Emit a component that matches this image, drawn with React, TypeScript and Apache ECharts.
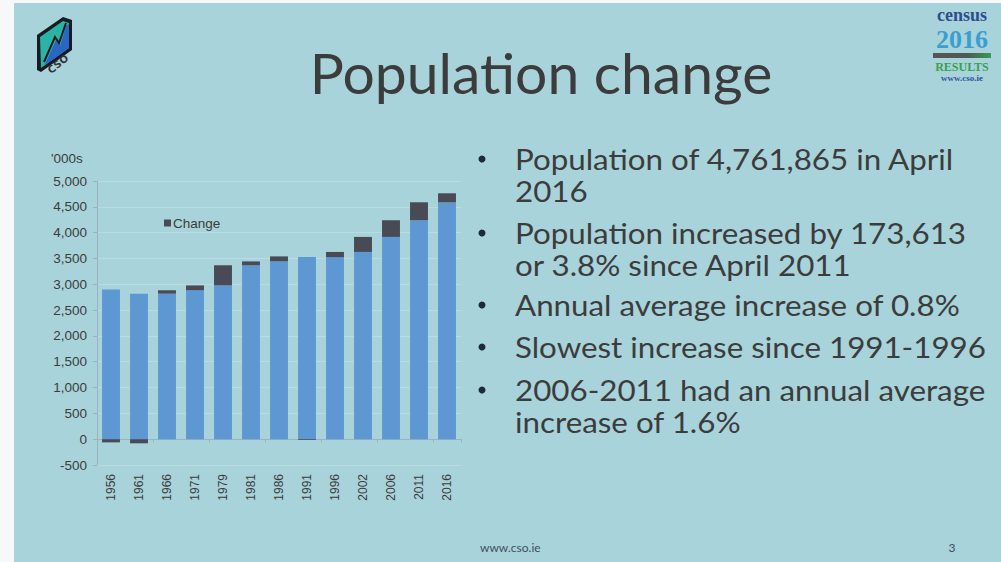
import React, { useEffect, useRef } from "react";
import * as echarts from "echarts";

const years = ["1956", "1961", "1966", "1971", "1979", "1981", "1986", "1991", "1996", "2002", "2006", "2011", "2016"];
// population base in '000s (previous census or current if decrease)
const basePopulation = [2898, 2818, 2818, 2884, 2978, 3368, 3443, 3526, 3526, 3626, 3917, 4240, 4588];
// change since previous census in '000s
const changeValues = [-62, -80, 66, 94, 390, 75, 97, -15, 100, 291, 323, 348, 174];

const titleText = "Population change";
const bulletLines: { text: string; bullet: boolean }[] = [
  { text: "Population of 4,761,865 in April", bullet: true },
  { text: "2016", bullet: false },
  { text: "Population increased by 173,613", bullet: true },
  { text: "or 3.8% since April 2011", bullet: false },
  { text: "Annual average increase of 0.8%", bullet: true },
  { text: "Slowest increase since 1991-1996", bullet: true },
  { text: "2006-2011 had an annual average", bullet: true },
  { text: "increase of 1.6%", bullet: false },
];
const bulletY = [158, 190, 232, 264, 304, 346, 389, 421];

const BG = "#A8D3DB";
const BLUE = "#5E98D3";
const DARK = "#4A4A56";
const TXT = "#3C3C3C";
const CHART_FONT = "Liberation Sans, Arial, sans-serif";
const SLIDE_FONT = "Lato, 'Open Sans', sans-serif";

export default function App() {
  const ref = useRef<HTMLDivElement>(null);
  useEffect(() => {
    if (!ref.current) return;
    const chart = echarts.init(ref.current, null, { renderer: "svg" });

    const bulletGraphics: any[] = [];
    bulletLines.forEach((l, i) => {
      if (l.bullet) {
        bulletGraphics.push({
          type: "circle",
          shape: { cx: 482, cy: bulletY[i] + 1, r: 3.5 },
          style: { fill: "#1e2a3a" },
        });
      }
      bulletGraphics.push({
        type: "text",
        x: 515,
        y: bulletY[i],
        scaleX: 1.08,
        style: {
          text: l.text,
          fill: TXT,
          font: `29px ${SLIDE_FONT}`,
          textVerticalAlign: "middle",
          textAlign: "left",
        },
      });
    });

    chart.setOption({
      animation: false,
      backgroundColor: BG,
      grid: { left: 97, right: 540, top: 181, bottom: 97, containLabel: false },
      legend: {
        data: ["Change"],
        left: 159,
        top: 211,
        icon: "rect",
        itemWidth: 7,
        itemHeight: 7,
        textStyle: { fontSize: 13.5, color: TXT, fontFamily: CHART_FONT, padding: [0, 0, 0, -3] },
      },
      xAxis: [
        {
          type: "category",
          data: years,
          axisLine: { onZero: true, lineStyle: { color: "#9BB3BA", width: 1 } },
          axisTick: { show: true, length: 3, lineStyle: { color: "#9BB3BA" } },
          axisLabel: { show: false },
          splitLine: { show: false },
        },
        {
          type: "category",
          data: years,
          position: "bottom",
          axisLine: { show: false, onZero: false },
          axisTick: { show: false },
          axisLabel: {
            rotate: 90,
            margin: 9,
            fontSize: 12,
            color: TXT,
            fontFamily: CHART_FONT,
          },
        },
      ],
      yAxis: {
        type: "value",
        min: -500,
        max: 5000,
        interval: 500,
        axisLine: { show: true, lineStyle: { color: "#9BB3BA" } },
        axisTick: { show: true, length: 4, lineStyle: { color: "#9BB3BA" } },
        axisLabel: {
          margin: 10,
          fontSize: 13.5,
          color: TXT,
          fontFamily: CHART_FONT,
          formatter: (v: number) => v.toLocaleString("en-US"),
        },
        splitLine: { show: true, lineStyle: { color: "#B9DCE2", width: 1 } },
      },
      series: [
        {
          name: "Population",
          type: "bar",
          stack: "total",
          data: basePopulation,
          barCategoryGap: "36%",
          itemStyle: { color: BLUE },
        },
        {
          name: "Change",
          type: "bar",
          stack: "total",
          data: changeValues,
          itemStyle: { color: DARK },
        },
      ],
      graphic: [
        { type: "rect", shape: { x: 0, y: 0, width: 14, height: 562 }, style: { fill: "#F6F8F9" } },
        { type: "rect", shape: { x: 0, y: 0, width: 1001, height: 3 }, style: { fill: "#F6F8F9" } },
        // CSO logo
        { type: "polygon", shape: { points: [[37, 35], [63, 17], [72, 20], [72, 50], [41, 72], [37, 70]] }, style: { fill: "#1a1a22" } },
        { type: "polygon", shape: { points: [[40, 37], [63, 21], [69, 23], [69, 48], [41, 68]] }, style: { fill: "#2BB3A5" } },
        { type: "polygon", shape: { points: [[46, 62], [56, 40], [60, 46], [66, 26], [69, 24], [69, 48], [44, 66]] }, style: { fill: "#2868C4" } },
        { type: "polyline", shape: { points: [[44, 62], [55, 37], [59, 43], [66, 23]] }, style: { stroke: "#1a1a22", lineWidth: 2, fill: "none" } },
        {
          type: "text",
          x: 58,
          y: 64,
          rotation: (40 * Math.PI) / 180,
          style: { text: "CSO", font: "bold 10px DejaVu Sans, sans-serif", fill: "#333", textAlign: "center", textVerticalAlign: "middle" },
        },
        // Census 2016 logo
        { type: "text", x: 962, y: 15, style: { text: "census", font: "bold 18px 'Liberation Serif', serif", fill: "#2D4E8C", textAlign: "center", textVerticalAlign: "middle" } },
        { type: "text", x: 962, y: 39, style: { text: "2016", font: "bold 26px 'Liberation Serif', serif", fill: "#3A9FCF", textAlign: "center", textVerticalAlign: "middle" } },
        {
          type: "rect",
          shape: { x: 933, y: 53, width: 58, height: 5 },
          style: {
            fill: new echarts.graphic.LinearGradient(0, 0, 1, 0, [
              { offset: 0, color: "#555" },
              { offset: 0.6, color: "#4d5a52" },
              { offset: 1, color: "#3a9a55" },
            ]),
          },
        },
        { type: "text", x: 962, y: 67, style: { text: "RESULTS", font: "bold 12px 'Liberation Serif', serif", fill: "#39A04F", textAlign: "center", textVerticalAlign: "middle" } },
        { type: "text", x: 962, y: 78, style: { text: "www.cso.ie", font: "bold 9px 'Liberation Serif', serif", fill: "#2F54A0", textAlign: "center", textVerticalAlign: "middle" } },
        // Title
        { type: "text", x: 541, y: 72, style: { text: titleText, font: `57px ${SLIDE_FONT}`, fill: TXT, textAlign: "center", textVerticalAlign: "middle" } },
        // Unit label
        { type: "text", x: 51, y: 158, style: { text: "'000s", font: `13.5px ${CHART_FONT}`, fill: TXT, textAlign: "left", textVerticalAlign: "middle" } },
        ...bulletGraphics,
        // footer
        { type: "text", x: 480, y: 547, style: { text: "www.cso.ie", font: `12px ${SLIDE_FONT}`, fill: "#3D5060", textAlign: "left", textVerticalAlign: "middle" } },
        { type: "text", x: 952, y: 547, style: { text: "3", font: `12px ${SLIDE_FONT}`, fill: "#3D5060", textAlign: "center", textVerticalAlign: "middle" } },
      ],
    });
    return () => chart.dispose();
  }, []);
  return <div ref={ref} style={{ position: "absolute", left: 0, top: 0, width: 1001, height: 562 }} />;
}
